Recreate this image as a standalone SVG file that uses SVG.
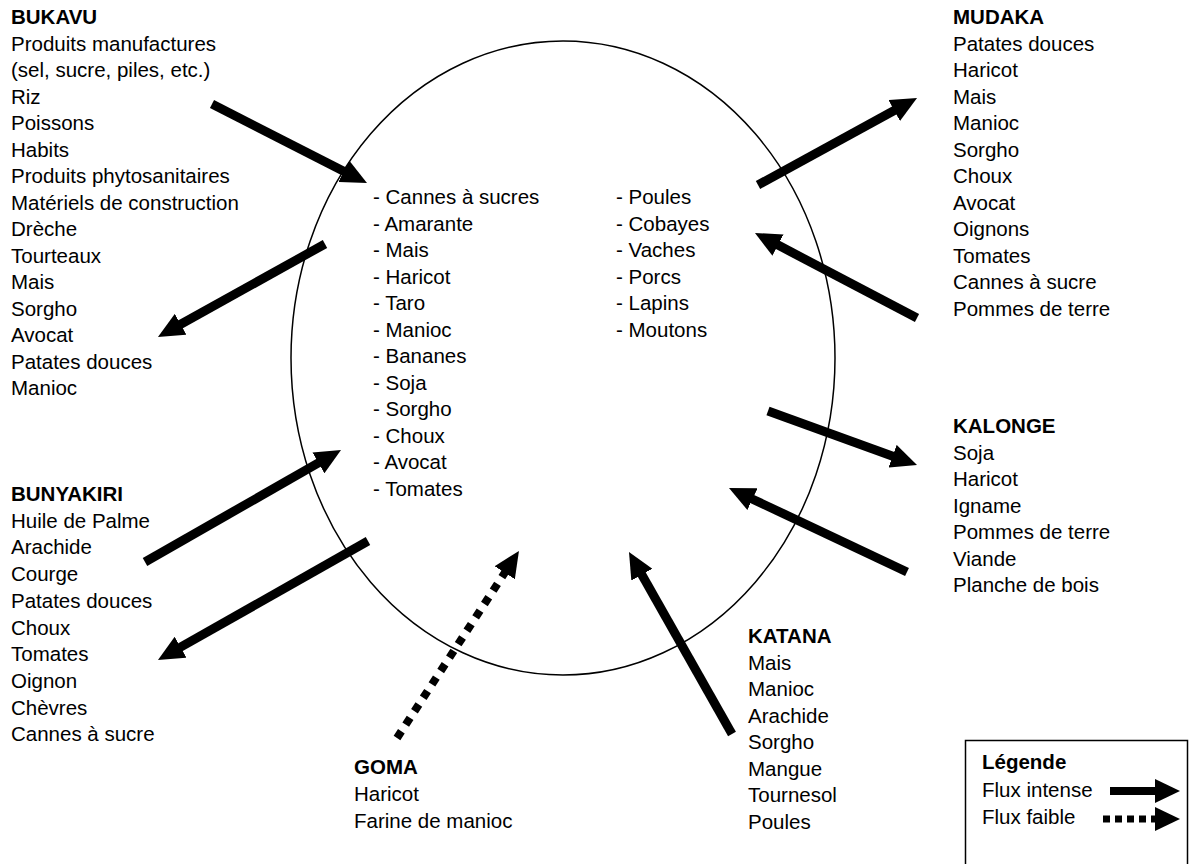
<svg xmlns="http://www.w3.org/2000/svg" width="1197" height="864" viewBox="0 0 1197 864">
<style>
text{font-family:"Liberation Sans",Arial,sans-serif;font-size:20.5px;fill:#000}
.b{font-weight:bold}
.arr{stroke:#000;stroke-width:9;fill:none;marker-end:url(#ah)}
.dot{stroke:#000;stroke-width:8;fill:none;stroke-dasharray:8 8;marker-end:url(#ah)}
</style>
<defs>
<marker id="ah" markerUnits="userSpaceOnUse" viewBox="0 0 26 24" markerWidth="26" markerHeight="24" refX="1" refY="12" orient="auto">
<path d="M0,0 L26,12 L0,24 Z" fill="#000"/>
</marker>
</defs>
<rect width="1197" height="864" fill="#fff"/>
<g id="zone">
<ellipse cx="563" cy="358" rx="272" ry="317" fill="none" stroke="#000" stroke-width="1.5"/>
<text x="373" y="204">- Cannes à sucres</text>
<text x="373" y="230.5">- Amarante</text>
<text x="373" y="257">- Mais</text>
<text x="373" y="283.5">- Haricot</text>
<text x="373" y="310">- Taro</text>
<text x="373" y="336.5">- Manioc</text>
<text x="373" y="363">- Bananes</text>
<text x="373" y="389.5">- Soja</text>
<text x="373" y="416">- Sorgho</text>
<text x="373" y="442.5">- Choux</text>
<text x="373" y="469">- Avocat</text>
<text x="373" y="495.5">- Tomates</text>
<text x="616" y="204">- Poules</text>
<text x="616" y="230.5">- Cobayes</text>
<text x="616" y="257">- Vaches</text>
<text x="616" y="283.5">- Porcs</text>
<text x="616" y="310">- Lapins</text>
<text x="616" y="336.5">- Moutons</text>
</g>
<g id="bukavu">
<text class="b" x="11" y="24">BUKAVU</text>
<text x="11" y="50.5">Produits manufactures</text>
<text x="11" y="77">(sel, sucre, piles, etc.)</text>
<text x="11" y="103.5">Riz</text>
<text x="11" y="130">Poissons</text>
<text x="11" y="156.5">Habits</text>
<text x="11" y="183">Produits phytosanitaires</text>
<text x="11" y="209.5">Matériels de construction</text>
<text x="11" y="236">Drèche</text>
<text x="11" y="262.5">Tourteaux</text>
<text x="11" y="289">Mais</text>
<text x="11" y="315.5">Sorgho</text>
<text x="11" y="342">Avocat</text>
<text x="11" y="368.5">Patates douces</text>
<text x="11" y="395">Manioc</text>
</g>
<g id="bunyakiri">
<text class="b" x="11" y="501">BUNYAKIRI</text>
<text x="11" y="527.7">Huile de Palme</text>
<text x="11" y="554.4">Arachide</text>
<text x="11" y="581.1">Courge</text>
<text x="11" y="607.8">Patates douces</text>
<text x="11" y="634.5">Choux</text>
<text x="11" y="661.2">Tomates</text>
<text x="11" y="687.9">Oignon</text>
<text x="11" y="714.6">Chèvres</text>
<text x="11" y="741.3">Cannes à sucre</text>
</g>
<g id="goma">
<text class="b" x="354" y="774">GOMA</text>
<text x="354" y="801">Haricot</text>
<text x="354" y="827.5">Farine de manioc</text>
</g>
<g id="katana">
<text class="b" x="748" y="643">KATANA</text>
<text x="748" y="669.5">Mais</text>
<text x="748" y="696">Manioc</text>
<text x="748" y="722.5">Arachide</text>
<text x="748" y="749">Sorgho</text>
<text x="748" y="775.5">Mangue</text>
<text x="748" y="802">Tournesol</text>
<text x="748" y="828.5">Poules</text>
</g>
<g id="kalonge">
<text class="b" x="953" y="433">KALONGE</text>
<text x="953" y="459.5">Soja</text>
<text x="953" y="486">Haricot</text>
<text x="953" y="512.5">Igname</text>
<text x="953" y="539">Pommes de terre</text>
<text x="953" y="565.5">Viande</text>
<text x="953" y="592">Planche de bois</text>
</g>
<g id="mudaka">
<text class="b" x="953" y="24">MUDAKA</text>
<text x="953" y="50.5">Patates douces</text>
<text x="953" y="77">Haricot</text>
<text x="953" y="103.5">Mais</text>
<text x="953" y="130">Manioc</text>
<text x="953" y="156.5">Sorgho</text>
<text x="953" y="183">Choux</text>
<text x="953" y="209.5">Avocat</text>
<text x="953" y="236">Oignons</text>
<text x="953" y="262.5">Tomates</text>
<text x="953" y="289">Cannes à sucre</text>
<text x="953" y="315.5">Pommes de terre</text>
</g>
<g id="connectors">
<line class="arr" x1="212" y1="104" x2="344.7" y2="171.7"/>
<line class="arr" x1="325" y1="244" x2="179.8" y2="324.8"/>
<line class="arr" x1="145" y1="562" x2="319.3" y2="462.4"/>
<line class="arr" x1="368" y1="541" x2="179.7" y2="647.7"/>
<line class="dot" x1="397" y1="738" x2="505.3" y2="571.9"/>
<line class="arr" x1="732" y1="734" x2="641.3" y2="573.8"/>
<line class="arr" x1="768" y1="411" x2="893.5" y2="456.5"/>
<line class="arr" x1="907" y1="572" x2="751.6" y2="498.7"/>
<line class="arr" x1="758" y1="185" x2="895.1" y2="110"/>
<line class="arr" x1="917" y1="318" x2="777.1" y2="244.6"/>
</g>
<g id="legend">
<rect x="965.5" y="740.5" width="222" height="140" fill="none" stroke="#000" stroke-width="1.5"/>
<text class="b" x="982" y="769">Légende</text>
<text x="982" y="797">Flux intense</text>
<text x="982" y="824">Flux faible</text>
<line x1="1110" y1="791" x2="1157" y2="791" stroke="#000" stroke-width="8"/>
<path d="M1155,779 L1180,791 L1155,803 Z" fill="#000"/>
<line x1="1103" y1="819" x2="1155" y2="819" stroke="#000" stroke-width="7" stroke-dasharray="7 5"/>
<path d="M1155,807 L1180,819 L1155,831 Z" fill="#000"/>
</g>
</svg>
